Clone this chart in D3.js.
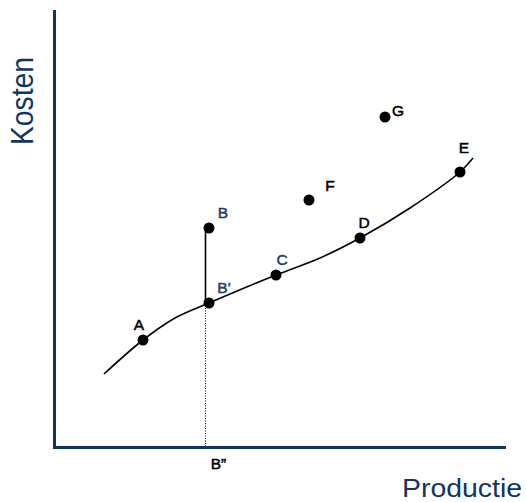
<!DOCTYPE html>
<html><head><meta charset="utf-8">
<script src="https://cdn.jsdelivr.net/npm/d3@7"></script>
<style>body{margin:0;background:#fff;}svg{display:block;}</style>
</head><body>
<script>
// Cost curve (x = productie, y = kosten), arbitrary units
const curveX = [49, 88, 120, 154, 221, 265, 305, 355, 405, 418];
const curveY = [72, 106, 128, 143, 171, 188, 208, 238, 274, 288];
// Labelled points
const pointNames = ["A", "B", "B'", "C", "D", "E", "F", "G"];
const pointX = [88, 154, 154, 221, 305, 405, 254, 330];
const pointY = [106, 218, 143, 171, 208, 274, 246, 329];
const pointColor = ["#000", "#1f3d66", "#1f3d66", "#1f3d66", "#000", "#000", "#000", "#000"];
const labelDx = [-4, 14, 15, 6, 4, 4, 21, 13];
const labelDy = [-10, -10, -10, -10, -10, -19, -9, -1];
const projX = 150.5; // B''
const axisLabels = ["Productie", "Kosten"];

const W = 526, H = 502;
const svg = d3.select("body").append("svg").attr("width", W).attr("height", H);
const x = d3.scaleLinear().domain([0, 450]).range([55, 505]);
const y = d3.scaleLinear().domain([0, 436]).range([446, 10]);
const navy = "#12355e";
const font = "Liberation Sans, Arial, Helvetica, sans-serif";

// axes
svg.append("line").attr("x1", x(0) - 0.5).attr("x2", x(0) - 0.5).attr("y1", y(436)).attr("y2", y(0) + 3)
  .attr("stroke", navy).attr("stroke-width", 3);
svg.append("line").attr("x1", x(0) - 2).attr("x2", x(451)).attr("y1", y(0) + 1.5).attr("y2", y(0) + 1.5)
  .attr("stroke", navy).attr("stroke-width", 3);

// dotted projection
svg.append("line").attr("x1", x(projX)).attr("x2", x(projX)).attr("y1", y(pointY[2])).attr("y2", y(0))
  .attr("stroke", "#000").attr("stroke-width", 1).attr("stroke-dasharray", "1,1.5");
// B - B' line
svg.append("line").attr("x1", x(projX)).attr("x2", x(projX)).attr("y1", y(pointY[1])).attr("y2", y(pointY[2]))
  .attr("stroke", "#000").attr("stroke-width", 1.6);

// curve
const cdata = curveX.map((v, i) => [v, curveY[i]]);
svg.append("path").datum(cdata)
  .attr("d", d3.line().x(d => x(d[0])).y(d => y(d[1])).curve(d3.curveCatmullRom.alpha(0.5)))
  .attr("fill", "none").attr("stroke", "#000").attr("stroke-width", 1.6);

// points
const pts = pointNames.map((n, i) => ({n, x: pointX[i], y: pointY[i], c: pointColor[i], dx: labelDx[i], dy: labelDy[i]}));
svg.selectAll("circle.p").data(pts).enter().append("circle")
  .attr("cx", d => x(d.x)).attr("cy", d => y(d.y)).attr("r", 5.5).attr("fill", "#000");
svg.selectAll("text.p").data(pts).enter().append("text")
  .attr("x", d => x(d.x) + d.dx).attr("y", d => y(d.y) + d.dy)
  .attr("text-anchor", "middle").attr("fill", d => d.c).attr("stroke", d => d.c).attr("stroke-width", 0.5)
  .attr("font-family", font).attr("font-size", 15.5)
  .text(d => d.n);
// B''
svg.append("text").attr("x", x(projX) + 13).attr("y", 469).attr("text-anchor", "middle")
  .attr("font-family", font).attr("font-size", 15.5).attr("stroke", "#000").attr("stroke-width", 0.5)
  .attr("fill", "#000").text("B\u201D");

// axis titles
svg.append("text").attr("x", 402).attr("y", 497)
  .attr("font-family", font).attr("font-size", 26).attr("textLength", 120).attr("lengthAdjust", "spacingAndGlyphs")
  .attr("fill", navy).text(axisLabels[0]);
svg.append("text").attr("transform", "translate(33,145) rotate(-90)")
  .attr("font-family", font).attr("font-size", 31).attr("textLength", 88).attr("lengthAdjust", "spacingAndGlyphs")
  .attr("fill", navy).text(axisLabels[1]);
</script>
</body></html>
